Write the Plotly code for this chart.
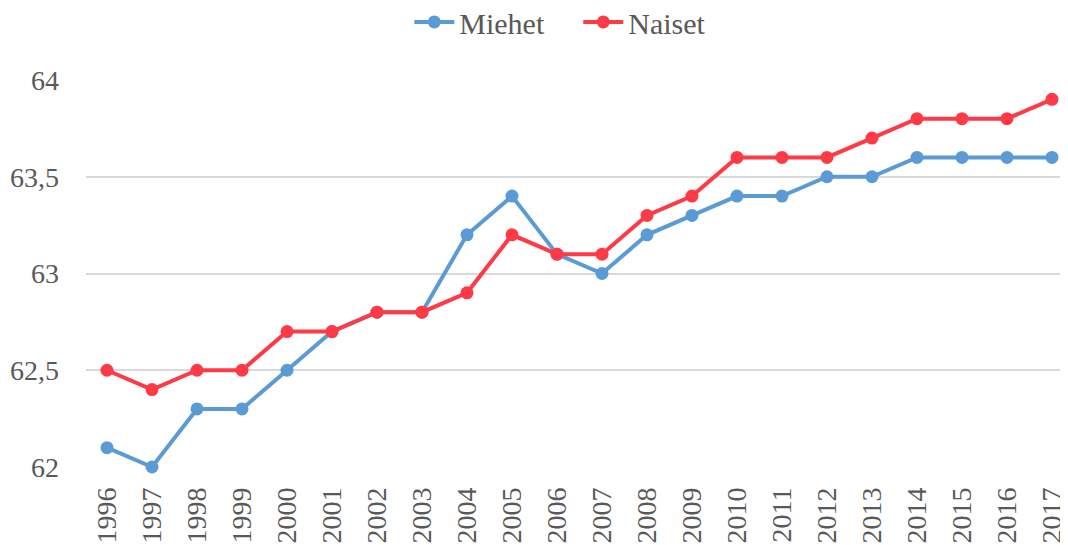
import plotly.graph_objects as go

years = list(range(1996, 2018))
miehet = [62.1, 62.0, 62.3, 62.3, 62.5, 62.7, 62.8, 62.8, 63.2, 63.4, 63.1,
          63.0, 63.2, 63.3, 63.4, 63.4, 63.5, 63.5, 63.6, 63.6, 63.6, 63.6]
naiset = [62.5, 62.4, 62.5, 62.5, 62.7, 62.7, 62.8, 62.8, 62.9, 63.2, 63.1,
          63.1, 63.3, 63.4, 63.6, 63.6, 63.6, 63.7, 63.8, 63.8, 63.8, 63.9]
y_ticks = [62, 62.5, 63, 63.5, 64]
y_labels = ["62", "62,5", "63", "63,5", "64"]

FONT = "Liberation Serif, DejaVu Serif, serif"
TXT = "#595959"

fig = go.Figure()
fig.add_trace(go.Scatter(x=years, y=miehet, name="Miehet", mode="lines+markers",
                         line=dict(color="#5B9BD5", width=4),
                         marker=dict(size=13, color="#5B9BD5"),
                         cliponaxis=False))
fig.add_trace(go.Scatter(x=years, y=naiset, name="Naiset", mode="lines+markers",
                         line=dict(color="#FF3A47", width=4),
                         marker=dict(size=13, color="#FF3A47"),
                         cliponaxis=False))

# page body has an 8px margin, so the figure is drawn 8px in from the corner
fig.update_layout(
    width=1060, height=537,
    margin=dict(l=78, r=0, t=72, b=78, autoexpand=False),
    paper_bgcolor="white", plot_bgcolor="white",
    font=dict(family=FONT, color=TXT, size=28),
    separators=", ",
    showlegend=True,
    legend=dict(orientation="h", x=0.538, xanchor="center", y=0.974, yanchor="middle",
                xref="container", yref="container",
                font=dict(size=30, color=TXT, family=FONT),
                entrywidth=114, entrywidthmode="pixels",
                itemwidth=40, tracegroupgap=0, bgcolor="rgba(0,0,0,0)"),
    xaxis=dict(range=[1995.533, 2017.356], tickmode="array", tickvals=years,
               ticktext=[str(y) for y in years], tickangle=-90,
               showgrid=False, zeroline=False, showline=False,
               ticks="", ticklabelstandoff=14, automargin=False,
               tickfont=dict(size=28, color=TXT, family=FONT)),
    yaxis=dict(range=[62, 64], tickmode="array", tickvals=y_ticks, ticktext=y_labels,
               showgrid=True, gridcolor="#D9D9D9", gridwidth=2,
               zeroline=False, showline=False, ticks="", ticklabelstandoff=26,
               automargin=False,
               tickfont=dict(size=28, color=TXT, family=FONT)),
)

fig.write_html("out.html")
